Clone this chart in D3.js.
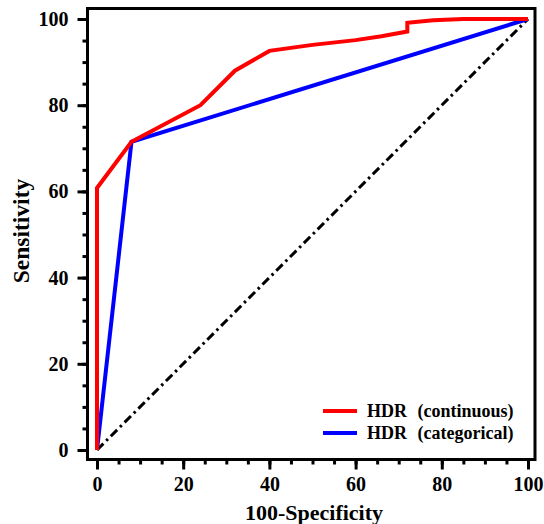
<!DOCTYPE html>
<html><head><meta charset="utf-8">
<script src="https://cdn.jsdelivr.net/npm/d3@7"></script>
<style>body{margin:0;background:#fff}svg{display:block}</style>
</head><body>
<svg id="c" width="544" height="524"></svg>
<script>
const contX = [0, 0, 8, 24, 32, 40, 50, 60, 66, 72, 72, 78, 85, 100];
const contY = [0, 60.8, 71.5, 80, 88, 92.6, 94, 95.1, 96, 97.1, 99.1, 99.7, 100, 100];
const catX = [0, 8, 100];
const catY = [0, 71.5, 100];
const refX = [0, 100];
const refY = [0, 100];
const tickValues = [0, 20, 40, 60, 80, 100];
const seriesNames = ["HDR (continuous)", "HDR (categorical)"];
const seriesColors = ["#ff0000", "#0000ff"];

const svg = d3.select("#c");
const x = d3.scaleLinear().domain([0, 100]).range([97, 528]);
const y = d3.scaleLinear().domain([0, 100]).range([450, 19]);
const font = "'Liberation Serif','Times New Roman',serif";

svg.append("rect").attr("x", 87.5).attr("y", 8.5).attr("width", 535 - 87.5).attr("height", 459.5 - 8.5)
  .attr("fill", "none").attr("stroke", "#000").attr("stroke-width", 3);

const minor = d3.range(0, 101, 5);
const gym = svg.append("g").attr("transform", "translate(87.5,0)")
  .call(d3.axisLeft(y).tickValues(minor).tickSize(5).tickFormat(""));
const gy = svg.append("g").attr("transform", "translate(87.5,0)")
  .call(d3.axisLeft(y).tickValues(tickValues).tickSize(10).tickPadding(9));
const gxm = svg.append("g").attr("transform", "translate(0,459.5)")
  .call(d3.axisBottom(x).tickValues(minor).tickSize(5).tickFormat(""));
const gx = svg.append("g").attr("transform", "translate(0,459.5)")
  .call(d3.axisBottom(x).tickValues(tickValues).tickSize(10).tickPadding(7));
[gym, gy, gxm, gx].forEach(g => {
  g.select(".domain").remove();
  g.selectAll("line").attr("stroke", "#000").attr("stroke-width", 3);
  g.selectAll("text").attr("font-family", font).attr("font-weight", "bold").attr("font-size", 20).attr("fill", "#000");
});

const line = d3.line().x(d => x(d[0])).y(d => y(d[1]));
svg.append("path").datum(refX.map((v, i) => [v, refY[i]])).attr("d", line)
  .attr("fill", "none").attr("stroke", "#000").attr("stroke-width", 3).attr("stroke-dasharray", "9,4,2.5,4");
svg.append("path").datum(catX.map((v, i) => [v, catY[i]])).attr("d", line)
  .attr("fill", "none").attr("stroke", seriesColors[1]).attr("stroke-width", 4).attr("stroke-linejoin", "miter");
svg.append("path").datum(contX.map((v, i) => [v, contY[i]])).attr("d", line)
  .attr("fill", "none").attr("stroke", seriesColors[0]).attr("stroke-width", 4).attr("stroke-linejoin", "miter");

seriesNames.forEach((n, i) => {
  const ly = 411 + i * 22;
  svg.append("line").attr("x1", 323).attr("x2", 357).attr("y1", ly).attr("y2", ly)
    .attr("stroke", seriesColors[i]).attr("stroke-width", 4);
  svg.append("text").attr("x", 367).attr("y", ly + 6).style("word-spacing", "6px")
    .attr("font-family", font).attr("font-weight", "bold").attr("font-size", 18).text(n);
});

svg.append("text").attr("x", 314).attr("y", 520).attr("text-anchor", "middle")
  .attr("font-family", font).attr("font-weight", "bold").attr("font-size", 22).text("100-Specificity");
svg.append("text").attr("transform", "translate(29,231) rotate(-90)").attr("text-anchor", "middle")
  .attr("font-family", font).attr("font-weight", "bold").attr("font-size", 23.5).text("Sensitivity");
</script>
</body></html>
